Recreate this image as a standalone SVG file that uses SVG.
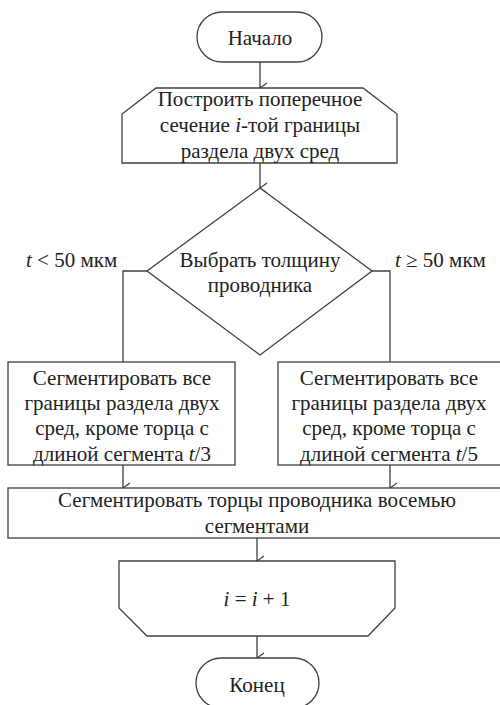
<svg xmlns="http://www.w3.org/2000/svg" width="500" height="705" viewBox="0 0 500 705">
<defs>
<marker id="arr" markerWidth="12" markerHeight="12" refX="6" refY="10" orient="auto" markerUnits="userSpaceOnUse" viewBox="0 0 12 12">
<path d="M1,3 L6,10 L11,3" fill="none" stroke="#404040" stroke-width="1.2"/>
</marker>
</defs>
<rect width="500" height="705" fill="#fff"/>
<g id="connectors" fill="none" stroke="#404040" stroke-width="1.3">
<line x1="260" y1="62" x2="260" y2="88" marker-end="url(#arr)"/>
<line x1="260" y1="163" x2="260" y2="188" marker-end="url(#arr)"/>
<polyline points="147,271 123,271 123,362"/>
<polyline points="372,271 390,271 390,362"/>
<line x1="123" y1="465" x2="123" y2="488" marker-end="url(#arr)"/>
<line x1="390" y1="465" x2="390" y2="488" marker-end="url(#arr)"/>
<line x1="257" y1="538" x2="257" y2="561" marker-end="url(#arr)"/>
<line x1="257" y1="636" x2="257" y2="658" marker-end="url(#arr)"/>
</g>
<g id="labels">
<text x="26" y="267" font-family="Liberation Serif" font-size="21" fill="#222"><tspan font-style="italic">t</tspan> &lt; 50 мкм</text>
<text x="395" y="267" font-family="Liberation Serif" font-size="21" fill="#222"><tspan font-style="italic">t</tspan> ≥ 50 мкм</text>
</g>
<g id="start">
<rect x="197" y="12" width="125" height="50" rx="25" fill="#fff" stroke="#404040" stroke-width="1.3"/>
<text x="260" y="45" font-family="Liberation Serif" font-size="21" fill="#222" text-anchor="middle">Начало</text>
</g>
<g id="loopStart">
<polygon points="156,88 363,88 397,114 397,163 122,163 122,114" fill="#fff" stroke="#404040" stroke-width="1.3"/>
<text x="260" y="106" font-family="Liberation Serif" font-size="21" fill="#222" text-anchor="middle">Построить поперечное</text>
<text x="260" y="132" font-family="Liberation Serif" font-size="21" fill="#222" text-anchor="middle">сечение <tspan font-style="italic">i</tspan>-той границы</text>
<text x="260" y="158" font-family="Liberation Serif" font-size="21" fill="#222" text-anchor="middle">раздела двух сред</text>
</g>
<g id="decision">
<polygon points="260,188 372,271 260,355 147,271" fill="#fff" stroke="#404040" stroke-width="1.3"/>
<text x="260" y="267" font-family="Liberation Serif" font-size="21" fill="#222" text-anchor="middle">Выбрать толщину</text>
<text x="260" y="292" font-family="Liberation Serif" font-size="21" fill="#222" text-anchor="middle">проводника</text>
</g>
<g id="segLeft">
<rect x="8" y="362" width="227" height="103" fill="#fff" stroke="#404040" stroke-width="1.3"/>
<text x="122" y="385" font-family="Liberation Serif" font-size="21" fill="#222" text-anchor="middle">Сегментировать все</text>
<text x="122" y="410" font-family="Liberation Serif" font-size="21" fill="#222" text-anchor="middle">границы раздела двух</text>
<text x="122" y="435" font-family="Liberation Serif" font-size="21" fill="#222" text-anchor="middle">сред, кроме торца с</text>
<text x="122" y="461" font-family="Liberation Serif" font-size="21" fill="#222" text-anchor="middle">длиной сегмента <tspan font-style="italic">t</tspan>/3</text>
</g>
<g id="segRight">
<rect x="278" y="362" width="225" height="103" fill="#fff" stroke="#404040" stroke-width="1.3"/>
<text x="389" y="385" font-family="Liberation Serif" font-size="21" fill="#222" text-anchor="middle">Сегментировать все</text>
<text x="389" y="410" font-family="Liberation Serif" font-size="21" fill="#222" text-anchor="middle">границы раздела двух</text>
<text x="389" y="435" font-family="Liberation Serif" font-size="21" fill="#222" text-anchor="middle">сред, кроме торца с</text>
<text x="389" y="461" font-family="Liberation Serif" font-size="21" fill="#222" text-anchor="middle">длиной сегмента <tspan font-style="italic">t</tspan>/5</text>
</g>
<g id="segEnds">
<rect x="8" y="488" width="495" height="50" fill="#fff" stroke="#404040" stroke-width="1.3"/>
<text x="257" y="507" font-family="Liberation Serif" font-size="21" fill="#222" text-anchor="middle">Сегментировать торцы проводника восемью</text>
<text x="257" y="533" font-family="Liberation Serif" font-size="21" fill="#222" text-anchor="middle">сегментами</text>
</g>
<g id="loopEnd">
<polygon points="119,561 395,561 395,608 368,636 147,636 119,608" fill="#fff" stroke="#404040" stroke-width="1.3"/>
<text x="257" y="606" font-family="Liberation Serif" font-size="21" fill="#222" text-anchor="middle"><tspan font-style="italic">i</tspan> = <tspan font-style="italic">i</tspan> + 1</text>
</g>
<g id="end">
<rect x="196" y="658" width="123" height="50" rx="25" fill="#fff" stroke="#404040" stroke-width="1.3"/>
<text x="257" y="692" font-family="Liberation Serif" font-size="21" fill="#222" text-anchor="middle">Конец</text>
</g>
</svg>
